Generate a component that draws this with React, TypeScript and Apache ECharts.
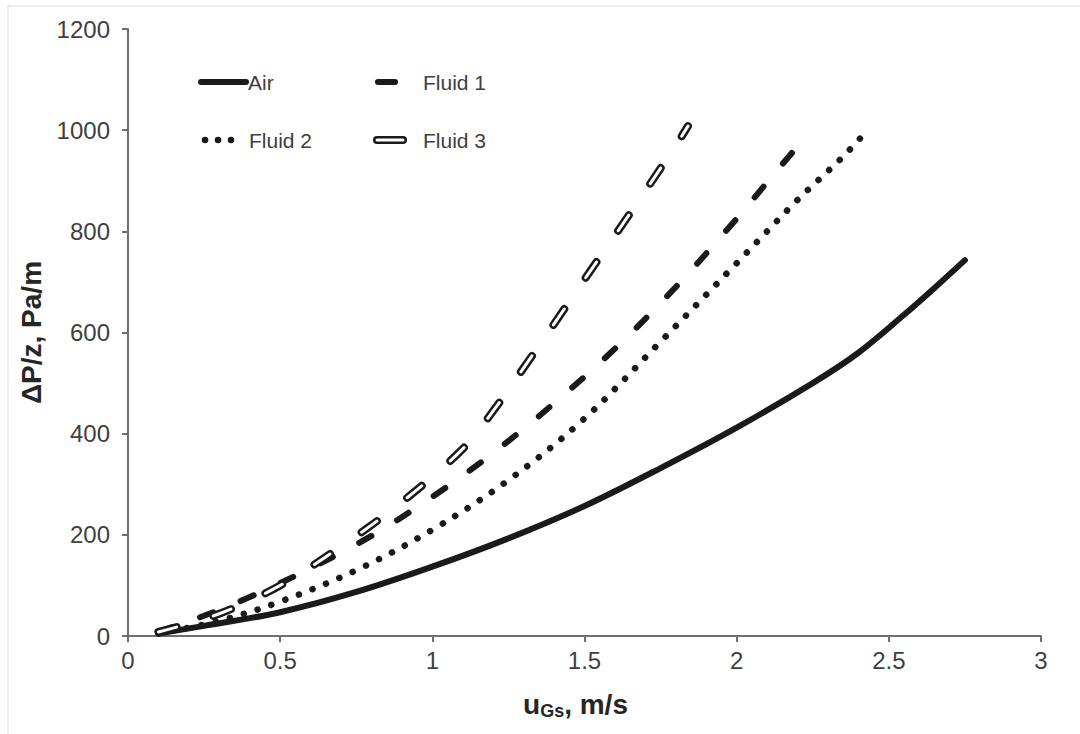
import React, { useEffect, useRef } from "react";
import * as echarts from "echarts";

const FONT = "'Liberation Sans', Arial, Helvetica, sans-serif";

const airU = [0.1, 0.25, 0.5, 0.75, 1.0, 1.25, 1.5, 1.75, 2.0, 2.25, 2.4, 2.55, 2.65, 2.75];
const airP = [5, 20, 47, 87, 137, 193, 257, 332, 412, 500, 560, 635, 688, 743];

const fluid1U = [0.1, 0.25, 0.4, 0.6, 0.8, 1.0, 1.2, 1.4, 1.6, 1.8, 2.0, 2.1, 2.2, 2.235];
const fluid1P = [8, 40, 77, 134, 198, 275, 362, 460, 568, 690, 825, 897, 968, 992];

const fluid2U = [0.1, 0.3, 0.5, 0.75, 1.0, 1.25, 1.5, 1.75, 2.0, 2.2, 2.35, 2.43];
const fluid2P = [5, 30, 68, 130, 210, 308, 430, 582, 737, 862, 948, 1000];

const fluid3U = [0.1, 0.3, 0.5, 0.7, 0.9, 1.1, 1.2, 1.3, 1.4, 1.5, 1.6, 1.7, 1.8, 1.84];
const fluid3P = [8, 44, 100, 177, 265, 370, 445, 530, 617, 705, 792, 880, 970, 1008];

const xTicks = ["0", "0.5", "1", "1.5", "2", "2.5", "3"];
const yTicks = ["0", "200", "400", "600", "800", "1000", "1200"];
const legendNames = ["Air", "Fluid 1", "Fluid 2", "Fluid 3"];

const zip = (u: number[], p: number[]) => u.map((v, i) => [v, p[i]]);

const LINE = "#1a1a1a";
const AXIS = "#6e6e6e";
const LABEL = "#404040";

export default function App() {
  const ref = useRef<HTMLDivElement>(null);
  useEffect(() => {
    if (!ref.current) return;
    const chart = echarts.init(ref.current, null, { renderer: "svg" });
    const base = { type: "line", showSymbol: false, symbol: "none", smooth: 0.35, silent: true };
    chart.setOption({
      animation: false,
      backgroundColor: "#ffffff",
      grid: { left: 128, right: 39, top: 29, bottom: 98, containLabel: false },
      xAxis: {
        type: "value",
        min: 0,
        max: 3,
        interval: 0.5,
        name: "{a|u}{b|Gs}{a|, m/s}",
        nameLocation: "middle",
        nameGap: 52,
        nameTextStyle: {
          padding: [0, 18, 0, 0],
          rich: {
            a: { fontSize: 28, fontWeight: "bold", color: "#262626", fontFamily: FONT, lineHeight: 32 },
            b: { fontSize: 18, fontWeight: "bold", color: "#262626", fontFamily: FONT, lineHeight: 17, verticalAlign: "bottom" },
          },
        },
        axisLine: { show: true, onZero: false, lineStyle: { color: AXIS, width: 2 } },
        axisTick: { show: true, length: 6, lineStyle: { color: AXIS, width: 2 } },
        axisLabel: {
          margin: 12,
          fontSize: 24,
          color: LABEL,
          fontFamily: FONT,
          formatter: (v: number) => xTicks[Math.round(v / 0.5)] ?? String(v),
        },
        splitLine: { show: false },
      },
      yAxis: {
        type: "value",
        min: 0,
        max: 1200,
        interval: 200,
        name: "ΔP/z, Pa/m",
        nameLocation: "middle",
        nameGap: 82,
        nameTextStyle: { fontSize: 28, fontWeight: "bold", color: "#262626", fontFamily: FONT },
        axisLine: { show: true, onZero: false, lineStyle: { color: AXIS, width: 2 } },
        axisTick: { show: true, length: 6, lineStyle: { color: AXIS, width: 2 } },
        axisLabel: {
          margin: 18,
          fontSize: 24,
          color: LABEL,
          fontFamily: FONT,
          formatter: (v: number) => yTicks[Math.round(v / 200)] ?? String(v),
        },
        splitLine: { show: false },
      },
      series: [
        {
          ...base,
          name: legendNames[0],
          data: zip(airU, airP),
          lineStyle: { color: LINE, width: 6, cap: "round" },
        },
        {
          ...base,
          name: legendNames[1],
          data: zip(fluid1U, fluid1P),
          lineStyle: { color: LINE, width: 6, type: [14, 30], cap: "round" },
        },
        {
          ...base,
          name: legendNames[2],
          data: zip(fluid2U, fluid2P),
          lineStyle: { color: LINE, width: 6.5, type: [0.1, 14.5], cap: "round" },
        },
        {
          ...base,
          name: legendNames[3],
          data: zip(fluid3U, fluid3P),
          lineStyle: { color: LINE, width: 8, type: [19, 38], cap: "round" },
        },
        {
          ...base,
          name: legendNames[3] + " inner",
          data: zip(fluid3U, fluid3P),
          lineStyle: { color: "#ffffff", width: 3, type: [19, 38], cap: "round" },
        },
      ],
      graphic: [
        {
          type: "rect",
          silent: true,
          shape: { x: 8, y: 6, width: 1200, height: 900 },
          style: { fill: "none", stroke: "#e6e6e6", lineWidth: 1.5 },
        },
        { type: "line", shape: { x1: 201, y1: 82, x2: 246, y2: 82 }, style: { stroke: LINE, lineWidth: 6, lineCap: "round" } },
        { type: "text", x: 248, y: 82, style: { text: legendNames[0], fontSize: 21, fill: LABEL, font: `21px ${FONT}`, verticalAlign: "middle" } },
        { type: "line", shape: { x1: 378, y1: 82, x2: 395, y2: 82 }, style: { stroke: LINE, lineWidth: 6, lineCap: "round" } },
        { type: "text", x: 423, y: 82, style: { text: legendNames[1], fontSize: 21, fill: LABEL, font: `21px ${FONT}`, verticalAlign: "middle" } },
        { type: "line", shape: { x1: 205, y1: 140, x2: 231, y2: 140 }, style: { stroke: LINE, lineWidth: 6.5, lineCap: "round", lineDash: [0.1, 12.9] } },
        { type: "text", x: 249, y: 140, style: { text: legendNames[2], fontSize: 21, fill: LABEL, font: `21px ${FONT}`, verticalAlign: "middle" } },
        { type: "line", shape: { x1: 377, y1: 140, x2: 403, y2: 140 }, style: { stroke: LINE, lineWidth: 8, lineCap: "round" } },
        { type: "line", shape: { x1: 377, y1: 140, x2: 403, y2: 140 }, style: { stroke: "#ffffff", lineWidth: 3, lineCap: "round" } },
        { type: "text", x: 423, y: 140, style: { text: legendNames[3], fontSize: 21, fill: LABEL, font: `21px ${FONT}`, verticalAlign: "middle" } },
      ],
    });
    return () => chart.dispose();
  }, []);
  return (
    <div
      ref={ref}
      style={{ position: "fixed", left: 0, top: 0, width: 1080, height: 734, background: "#fff" }}
    />
  );
}
